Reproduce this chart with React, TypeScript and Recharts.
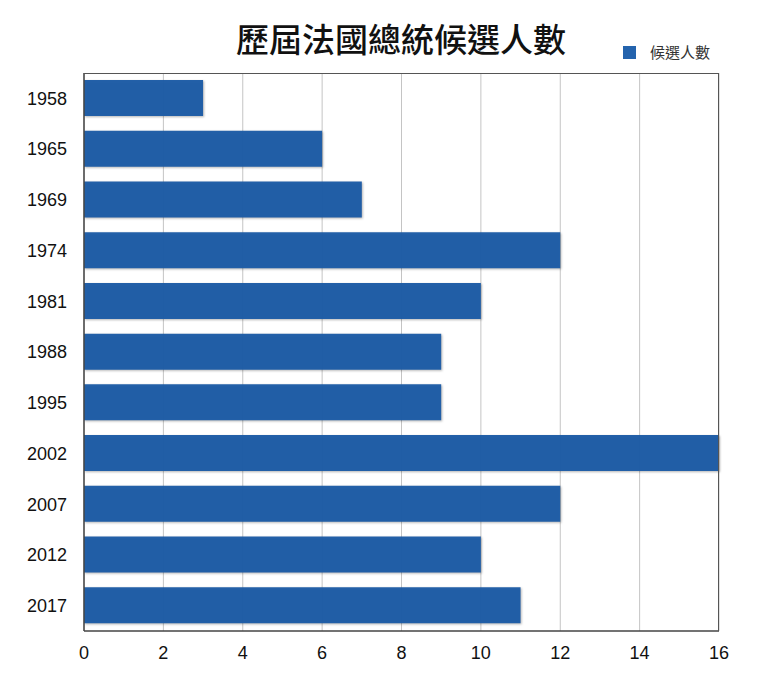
import React from "react"
import { BarChart, Bar, XAxis, YAxis, CartesianGrid } from "recharts"

const years = ["1958", "1965", "1969", "1974", "1981", "1988", "1995", "2002", "2007", "2012", "2017"]
const candidates = [3, 6, 7, 12, 10, 9, 9, 16, 12, 10, 11]
const xTicks = [0, 2, 4, 6, 8, 10, 12, 14, 16]

const seriesName = "候選人數"
const data = years.map((y, i) => ({ year: y, value: candidates[i] }))

const font = "'Liberation Sans', Arial, sans-serif"
const cjk = "'Noto Sans CJK TC', sans-serif"

export default function App() {
  return (
    <div style={{ position: "absolute", left: 0, top: 0, width: 768, height: 677, background: "#fff" }}>
      <div
        style={{
          position: "absolute",
          left: 0,
          width: 802,
          top: 16,
          textAlign: "center",
          fontFamily: cjk,
          fontSize: 33,
          fontWeight: 500,
          color: "#111",
          lineHeight: "44px",
        }}
      >
        歷屆法國總統候選人數
      </div>
      <div
        style={{
          position: "absolute",
          left: 623,
          top: 42,
          display: "flex",
          alignItems: "center",
          fontFamily: cjk,
          fontSize: 15,
          color: "#333",
          lineHeight: "20px",
        }}
      >
        <span style={{ width: 13, height: 13, background: "#2463ad", display: "inline-block", marginRight: 14 }} />
        {seriesName}
      </div>
      <BarChart
        width={768}
        height={677}
        data={data}
        layout="vertical"
        margin={{ top: 73, right: 49, bottom: 0, left: 0 }}
      >
        <CartesianGrid horizontal={false} stroke="#c4c4c4" />
        <XAxis
          type="number"
          domain={[0, 16]}
          ticks={xTicks}
          height={46}
          axisLine={{ stroke: "#444", strokeWidth: 1.5 }}
          tickLine={false}
          tick={{ fill: "#111", fontSize: 18, fontFamily: font }}
          tickMargin={9}
        />
        <YAxis
          type="category"
          dataKey="year"
          width={84}
          axisLine={{ stroke: "#444", strokeWidth: 1.5 }}
          tickLine={false}
          tick={{ fill: "#111", fontSize: 18, fontFamily: font }}
          tickMargin={11}
        />
        <Bar
          dataKey="value"
          name={seriesName}
          fill="#1b5ba5"
          fillOpacity={0.96}
          barSize={36}
          style={{ filter: "drop-shadow(1px 1px 1px rgba(0,0,0,0.3))" }}
          isAnimationActive={false}
        />
      </BarChart>
      <div
        style={{
          position: "absolute",
          left: 84,
          top: 73,
          width: 635,
          height: 558,
          boxSizing: "border-box",
          borderTop: "1.5px solid #555",
          borderRight: "1.5px solid #555",
          pointerEvents: "none",
        }}
      />
    </div>
  )
}
